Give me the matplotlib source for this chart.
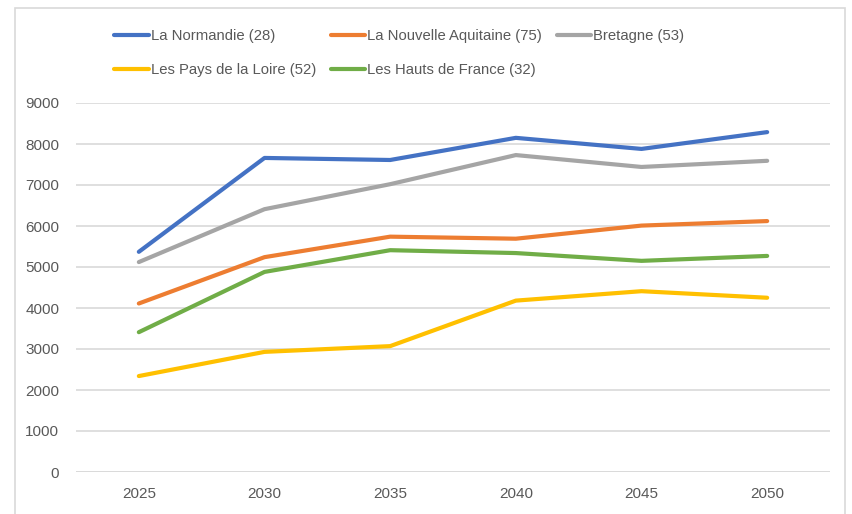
import matplotlib
matplotlib.use('Agg')
import matplotlib.pyplot as plt
from matplotlib.patches import Rectangle

# data
years = ['2025', '2030', '2035', '2040', '2045', '2050']
normandie = [5370, 7660, 7610, 8150, 7880, 8290]
aquitaine = [4110, 5240, 5740, 5690, 6010, 6120]
bretagne = [5120, 6410, 7020, 7730, 7440, 7590]
loire = [2340, 2930, 3070, 4180, 4410, 4250]
hauts = [3410, 4880, 5410, 5340, 5150, 5270]

names = ['La Normandie (28)', 'La Nouvelle Aquitaine (75)', 'Bretagne (53)',
         'Les Pays de la Loire (52)', 'Les Hauts de France (32)']
colors = ['#4472C4', '#ED7D31', '#A5A5A5', '#FFC000', '#70AD47']
yticks = [0, 1000, 2000, 3000, 4000, 5000, 6000, 7000, 8000, 9000]

plt.rcParams['font.family'] = ['Liberation Sans', 'DejaVu Sans']

W, H = 852, 514
fig = plt.figure(figsize=(W / 100, H / 100), dpi=100)

# light grey chart frame
fig.patches.append(Rectangle((15 / W, -0.01), 830 / W, 1 - 8 / H + 0.01,
                             transform=fig.transFigure, fill=False,
                             edgecolor='#D9D9D9', lw=1.2))

ax = fig.add_axes([76 / W, 1 - 472 / H, 754 / W, 369 / H])
series = [normandie, aquitaine, bretagne, loire, hauts]
handles = []
for vals, name, col in zip(series, names, colors):
    h, = ax.plot(range(len(years)), vals, color=col, lw=3,
                 solid_capstyle='round', solid_joinstyle='round', label=name)
    handles.append(h)

ax.set_xlim(-0.5, len(years) - 0.5)
ax.set_ylim(0, 9000)
ax.set_xticks(range(len(years)))
ax.set_xticklabels(years)
ax.set_yticks(yticks)
ax.tick_params(length=0, colors='#595959', labelsize=11)
ax.tick_params(axis='y', pad=12)
ax.tick_params(axis='x', pad=11)
ax.grid(axis='y', color='#D9D9D9', lw=1.2)
ax.set_axisbelow(True)
for s in ax.spines.values():
    s.set_visible(False)
ax.axhline(0, color='#D9D9D9', lw=1.2, zorder=0)

# column-major order so rows read like the reference
order = [0, 3, 1, 4, 2]
fig.legend([handles[i] for i in order], [names[i] for i in order],
           loc='upper left', bbox_to_anchor=(101 / W, 1 - 16 / H), ncol=3,
           frameon=False, fontsize=10.7, handlelength=2.3, handletextpad=0.15,
           columnspacing=1.0, labelspacing=1.33, labelcolor='#595959')

fig.savefig('out.png', dpi=100)
